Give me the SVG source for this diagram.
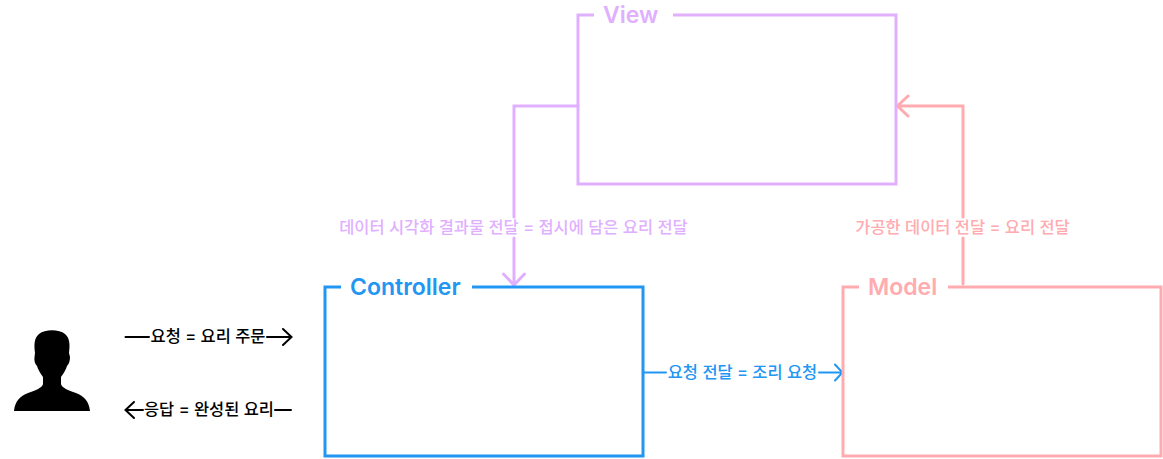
<svg xmlns="http://www.w3.org/2000/svg" width="1163" height="459" viewBox="0 0 1163 459">
<style>
text{font-family:"Inter","Noto Sans CJK KR","Noto Sans",sans-serif}
.t{font-size:23px;font-weight:600}
.l{font-size:16.450px;font-weight:500;text-anchor:middle}
.f,.c{fill:none;stroke-width:3}
.c{stroke-width:2}
.pu{stroke:#e0b0ff}.bl{stroke:#2196f3}.pk{stroke:#ffabb0}.k{stroke:#000}
.fpu{fill:#e0b0ff}.fbl{fill:#2196f3}.fpk{fill:#ffabb0}
</style>
<rect width="1163" height="459" fill="#fff"/>
<g id="connectors" stroke-linejoin="miter" stroke-linecap="round">
<path class="c k" d="M125.500 337H149M267 337H291.500M283 329L291.500 337L283 345"/>
<path class="c k" d="M291 410H275M143 410H125.500M134 402L125.500 410L134 418"/>
<path class="c bl" d="M644 372.500H666M819 372.500H842M835 364.500L842.500 372.500L835 380.500"/>
<path class="f pu" d="M578 106H514V217M514 238V284M503.500 274L514 285L524.500 274"/>
<path class="f pk" d="M963 284V238M963 217V106H898M908 96L897.500 106L908 116"/>
</g>
<g id="view">
<path class="f pu" d="M594 15H578V184H896V15H673"/>
<text class="t fpu" x="603" y="22.500">View</text>
</g>
<g id="controller">
<path class="f bl" d="M341 287H325V456H643V287H472"/>
<text class="t fbl" x="350" y="294.500">Controller</text>
</g>
<g id="model">
<path class="f pk" d="M859 287H843V456H1161V287H948"/>
<text class="t fpk" x="868" y="294.500">Model</text>
</g>
<g id="user">
<path d="M14 411C15 401 20 396 28 393C36 390 42 388 43 384L43 377C40 373 38 369 37 366C35 364 34 361 34.500 357L35 353C34 345 34 338 39 334C45 329 59 329 65 334C70 338 70 345 69 353L70 357C70 361 69 364 67 366C66 369 64 373 61 377L61 384C62 388 68 390 76 393C84 396 89 401 90 411Z" fill="#000"/>
</g>
<g id="labels">
<text class="l" x="208" y="342">요청 = 요리 주문</text>
<text class="l" x="209" y="415">응답 = 완성된 요리</text>
<text class="l fbl" x="742.500" y="377.500">요청 전달 = 조리 요청</text>
<text class="l fpu" x="513.500" y="233">데이터 시각화 결과물 전달 = 접시에 담은 요리 전달</text>
<text class="l fpk" x="962.500" y="233">가공한 데이터 전달 = 요리 전달</text>
</g>
</svg>
